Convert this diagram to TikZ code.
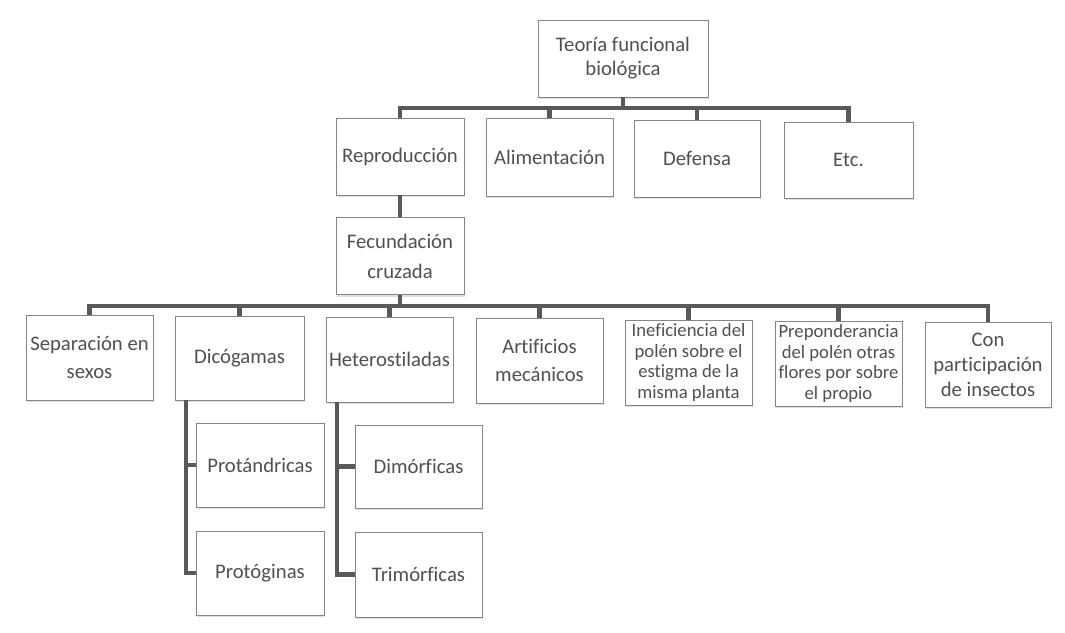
\documentclass[tikz,border=0pt]{standalone}
\usepackage{fontspec}
\setmainfont{Carlito}[Ligatures=CommonOff]
\usetikzlibrary{shadows}
\definecolor{txt}{HTML}{505050}
\definecolor{bord}{HTML}{858585}
\definecolor{linec}{HTML}{595959}
\tikzset{
  box/.style={draw=bord, line width=0.8pt, fill=white, text=txt, align=center,
    inner sep=0pt, font=\fontsize{20.7}{26}\selectfont,
    drop shadow={opacity=0.25, shadow xshift=1pt, shadow yshift=-2pt}},
  smallbox/.style={box, font=\fontsize{18.7}{20.5}\selectfont},
  conn/.style={draw=linec, line width=4.2pt},
}
\begin{document}
\begin{tikzpicture}[x=1pt, y=-1pt]
\useasboundingbox (0,0) rectangle (1065,632);
% level 0
\node[box, font=\fontsize{20.7}{24}\selectfont, minimum width=170pt, minimum height=77pt] (top) at (623,58.5) {Teoría funcional\\biológica};
% level 1
\node[box, minimum width=128pt, minimum height=77pt] (rep) at (400,156.5) {Reproducción};
\node[box, minimum width=127pt, minimum height=78pt] (ali) at (549.5,157) {Alimentación};
\node[box, minimum width=126pt, minimum height=77pt] (def) at (697,158.5) {Defensa};
\node[box, minimum width=129pt, minimum height=76pt] (etc) at (848.5,160) {Etc.};
% level 2
\node[box, font=\fontsize{20.7}{30}\selectfont, minimum width=128pt, minimum height=77pt] (fec) at (400,256) {Fecundación\\cruzada};
% level 3
\node[box, font=\fontsize{20.7}{28}\selectfont, minimum width=127pt, minimum height=85pt] (sep) at (89.5,357.5) {Separación en\\sexos};
\node[box, minimum width=129pt, minimum height=84pt] (dic) at (239.5,358) {Dicógamas};
\node[box, minimum width=127pt, minimum height=85pt] (het) at (389.5,359.5) {Heterostiladas};
\node[box, font=\fontsize{20.7}{28}\selectfont, minimum width=127pt, minimum height=85pt] (art) at (539.5,360.5) {Artificios\\mecánicos};
\node[smallbox, minimum width=127pt, minimum height=85pt] (inef) at (688.5,362.5) {Ineficiencia del\\polén sobre el\\estigma de la\\misma planta};
\node[smallbox, minimum width=127pt, minimum height=85pt] (prep) at (838.5,363.5) {Preponderancia\\del polén otras\\flores por sobre\\el propio};
\node[box, font=\fontsize{20.7}{25}\selectfont, minimum width=126pt, minimum height=85pt] (con) at (988,364.5) {Con\\participación\\de insectos};
% level 4
\node[box, minimum width=128pt, minimum height=84pt] (prot) at (260,465) {Protándricas};
\node[box, minimum width=128pt, minimum height=84pt] (protog) at (260,573) {Protóginas};
\node[box, minimum width=127pt, minimum height=83pt] (dim) at (418.5,466.5) {Dimórficas};
\node[box, minimum width=127pt, minimum height=85pt] (trim) at (418.5,574.5) {Trimórficas};
% connectors level 0 -> 1
\foreach \c in {rep,ali,def,etc}
  \draw[conn] (top.south) -- ++(0,10.5) -| (\c.north);
% rep -> fec
\draw[conn] (rep.south) -- (fec.north);
% fec -> level 3
\foreach \c in {sep,dic,het,art,inef,prep,con}
  \draw[conn] (fec.south) -- ++(0,11) -| (\c.north);
% dicogamas, heterostiladas
\draw[conn] ([xshift=11pt]dic.south west) |- (prot.west);
\draw[conn] ([xshift=11pt]dic.south west) |- (protog.west);
\draw[conn] ([xshift=11pt]het.south west) |- (dim.west);
\draw[conn] ([xshift=11pt]het.south west) |- (trim.west);
\end{tikzpicture}
\end{document}
